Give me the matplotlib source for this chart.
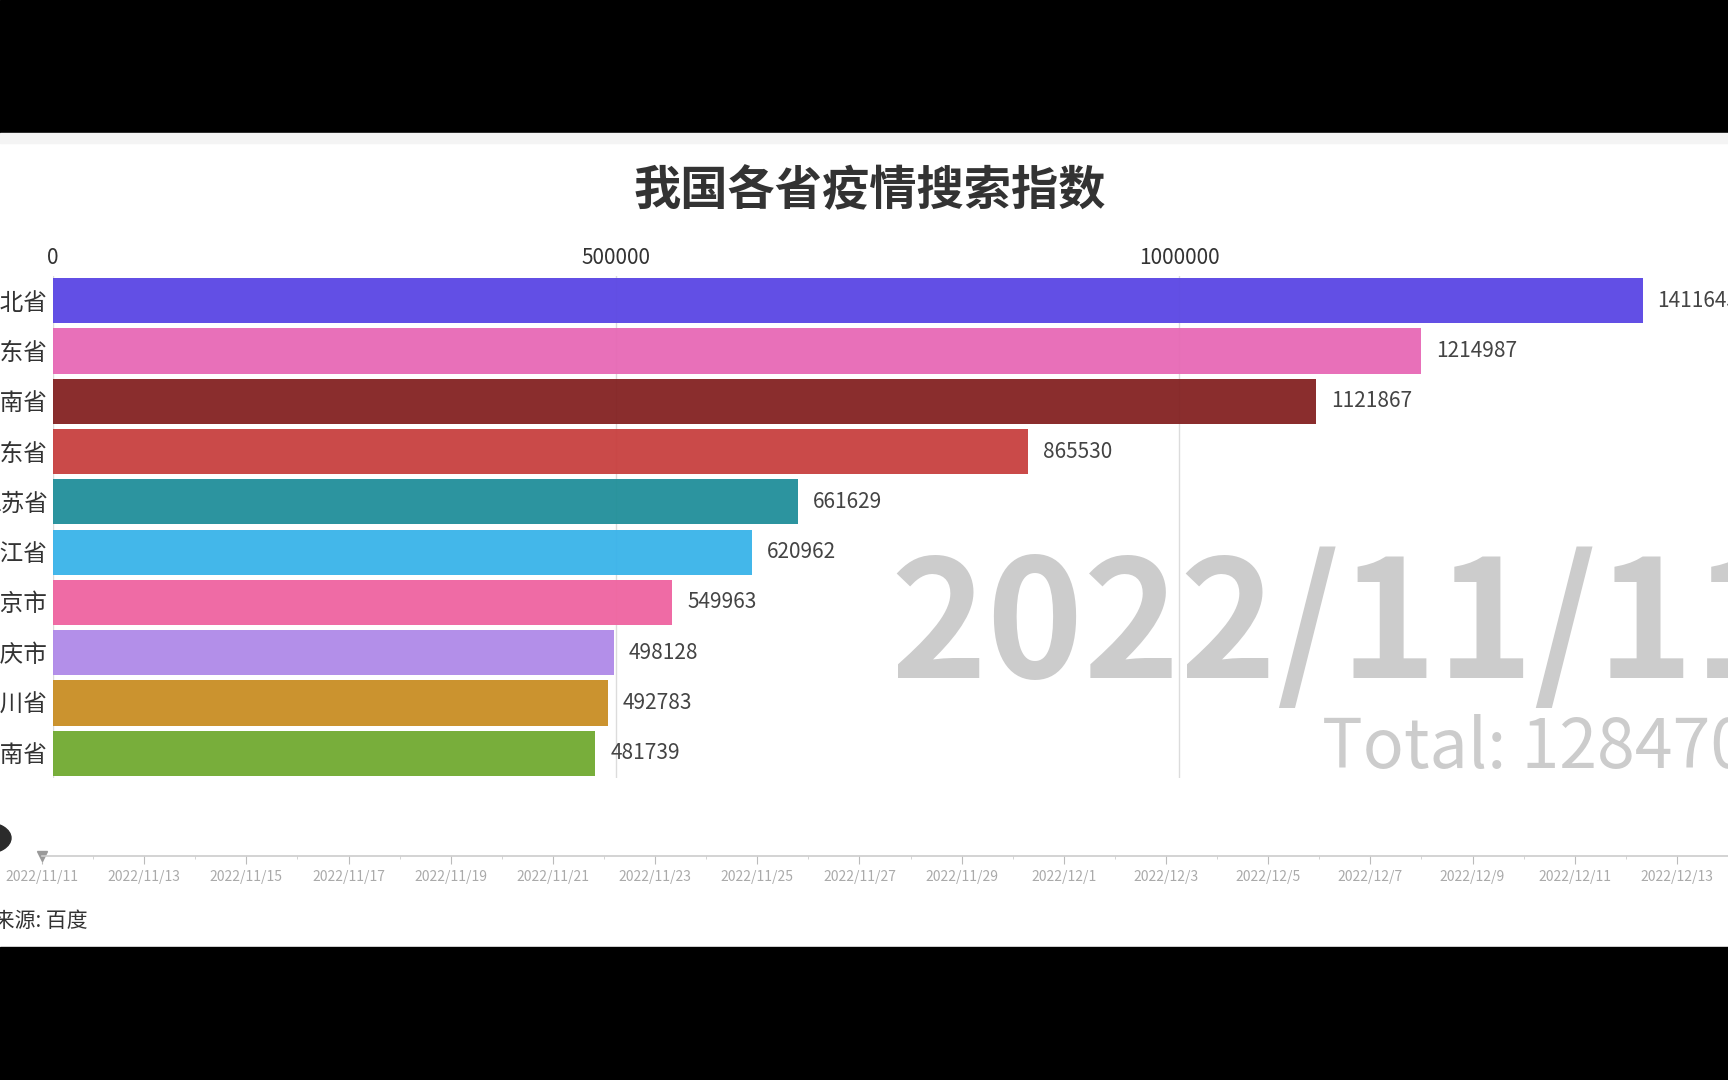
import matplotlib.pyplot as plt
import matplotlib.dates as mdates
import pandas as pd
from matplotlib import ticker
from matplotlib.patches import Circle, Rectangle

plt.rcParams["font.family"] = ["Noto Sans CJK SC", "DejaVu Sans"]

# Data (frame for 2022/11/11)
PROVINCES = ["河北省", "广东省", "河南省", "山东省", "江苏省",
             "浙江省", "北京市", "重庆市", "四川省", "湖南省"]
VALUES = [1411645, 1214987, 1121867, 865530, 661629,
          620962, 549963, 498128, 492783, 481739]
COLORS = ["#5c48e4", "#e76ab6", "#852424", "#c84241", "#23909b",
          "#3bb4ea", "#ef65a1", "#b08ae9", "#c98f26", "#72ab33"]
X_TICKS = [0, 500000, 1000000]
CURRENT_DATE = "2022/11/11"
TOTAL = 12847063
TIMELINE = pd.date_range("2022-11-11", "2022-12-14", freq="D")

TITLE = "我国各省疫情搜索指数"
SOURCE = "数据来源: 百度"

W, H = 1728, 1080
fig = plt.figure(figsize=(W / 100, H / 100), dpi=100)
fig.patch.set_facecolor("white")


def fx(px):
    return px / W


def fy(px):
    return 1 - px / H


# Letterbox bands of the video frame
fig.patches.append(Rectangle((0, fy(133)), 1, 133 / H, transform=fig.transFigure,
                             color="black", zorder=0))
fig.patches.append(Rectangle((0, 0), 1, (H - 947) / H, transform=fig.transFigure,
                             color="black", zorder=0))
fig.patches.append(Rectangle((0, fy(143)), 1, 10 / H, transform=fig.transFigure,
                             color="#f4f4f4", zorder=0))

# Bar chart axes
ax = fig.add_axes([fx(53), fy(778), 1 - fx(53), (778 - 276) / H])
ax.set_facecolor("none")
px_per_unit = 563 / 500000
ax.set_xlim(0, (W - 53) / px_per_unit)
ax.set_ylim(9.49, -0.49)

# Grid under the bars, bars slightly see-through like the original
for x in X_TICKS:
    ax.axvline(x, color="#dcdcdc", linewidth=1, zorder=1)

ypos = list(range(len(VALUES)))
ax.barh(ypos, VALUES, height=0.9, color=COLORS, alpha=0.96, zorder=2)

for y, v in zip(ypos, VALUES):
    ax.text(v + 15 / px_per_unit, y, str(v), va="center", ha="left",
            fontsize=15, color="#444444", clip_on=False)

ax.set_yticks(ypos)
ax.set_yticklabels(PROVINCES, fontsize=17, color="#333333")
ax.tick_params(axis="y", length=0, pad=4)

ax.xaxis.tick_top()
ax.set_xticks(X_TICKS)
ax.xaxis.set_major_formatter(ticker.FuncFormatter(lambda x, _: f"{int(x)}"))
ax.tick_params(axis="x", length=0, pad=5, labelsize=15, colors="#333333")

for s in ax.spines.values():
    s.set_visible(False)

# Title
fig.text(fx(870), fy(191), TITLE, ha="center", va="center",
         fontsize=34, fontweight="bold", color="#333333")

# Big date and total watermark
fig.text(fx(890), fy(678), CURRENT_DATE, ha="left", va="baseline",
         fontsize=118, fontweight="bold", color="#cccccc", zorder=1)
fig.text(fx(1322), fy(768), f"Total: {TOTAL}", ha="left", va="baseline",
         fontsize=49, color="#cccccc", zorder=1)

# Timeline
tl = fig.add_axes([fx(42), fy(856), 1 - fx(42), 0.0001])
tl.set_facecolor("none")
start = mdates.date2num(TIMELINE[0])
tl.set_xlim(start, start + (W - 42) / 51.9)
tl.set_ylim(-1, 1)
tl.set_yticks([])
for s in ["top", "left", "right"]:
    tl.spines[s].set_visible(False)
tl.spines["bottom"].set_color("#cccccc")
tl.spines["bottom"].set_linewidth(1.2)
tl.set_xticks(mdates.date2num(TIMELINE[::2]))
tl.set_xticks(mdates.date2num(TIMELINE), minor=True)
tl.set_xticklabels([f"{d.year}/{d.month}/{d.day}" for d in TIMELINE[::2]])
tl.tick_params(axis="x", which="major", length=6, color="#bbbbbb",
               labelsize=10, labelcolor="#aaaaaa", pad=4)
tl.tick_params(axis="x", which="minor", length=2.5, color="#cccccc")
tl.plot([start], [0], marker="v", color="#999999", markersize=7,
        clip_on=False, transform=tl.get_xaxis_transform())

# Play button (partially off-frame)
fig.patches.append(Circle((fx(-14), fy(838)), 25 / W, transform=fig.transFigure,
                          color="#2b2b2b", zorder=5))

# Source
fig.text(fx(88), fy(921), SOURCE, ha="right", va="center",
         fontsize=15, color="#333333")

fig.savefig("out.png", dpi=100, facecolor=fig.get_facecolor())
